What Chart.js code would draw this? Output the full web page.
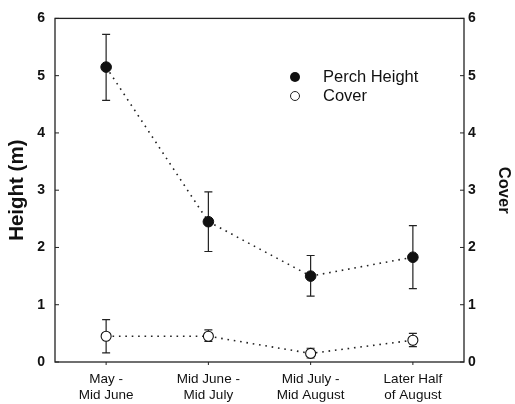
<!DOCTYPE html>
<html lang="en">
<head>
  <meta charset="utf-8">
  <title>Perch height and cover</title>
  <style>
    html, body { margin: 0; padding: 0; background: #fff; }
    #wrap { width: 515px; height: 404px; }
  </style>
</head>
<body>
  <div id="wrap"><canvas id="myChart" width="515" height="404"></canvas></div>

  <script src="https://cdn.jsdelivr.net/npm/chart.js@4"></script>
  <script>
    // data
    var periods = [['May -', 'Mid June'], ['Mid June -', 'Mid July'], ['Mid July -', 'Mid August'], ['Later Half', 'of August']];
    var perchHeight = [5.15, 2.45, 1.5, 1.83];
    var perchLow = [4.57, 1.93, 1.15, 1.28];
    var perchHigh = [5.72, 2.97, 1.86, 2.38];
    var cover = [0.45, 0.45, 0.15, 0.38];
    var coverLow = [0.16, 0.36, 0.07, 0.27];
    var coverHigh = [0.74, 0.56, 0.24, 0.5];
    var yTicks = [0, 1, 2, 3, 4, 5, 6];

    var font = "'Liberation Sans', Arial, sans-serif";

    // error bars, frame, tick marks and legend
    var extras = {
      id: 'extras',
      beforeDatasetsDraw: function(chart) {
        var ctx = chart.ctx;
        var x = chart.scales.x, y = chart.scales.y;
        var bars = [[perchLow, perchHigh], [coverLow, coverHigh]];
        ctx.save();
        ctx.strokeStyle = '#222';
        ctx.lineWidth = 1.2;
        bars.forEach(function(b) {
          for (var i = 0; i < periods.length; i++) {
            var px = x.getPixelForValue(i);
            var lo = y.getPixelForValue(b[0][i]), hi = y.getPixelForValue(b[1][i]);
            ctx.beginPath();
            ctx.moveTo(px, lo); ctx.lineTo(px, hi);
            ctx.moveTo(px - 4, lo); ctx.lineTo(px + 4, lo);
            ctx.moveTo(px - 4, hi); ctx.lineTo(px + 4, hi);
            ctx.stroke();
          }
        });
        ctx.restore();
      },
      afterDraw: function(chart) {
        var ctx = chart.ctx, a = chart.chartArea;
        var x = chart.scales.x, y = chart.scales.y;
        ctx.save();
        ctx.strokeStyle = '#222';
        ctx.lineWidth = 1.3;
        ctx.strokeRect(a.left, a.top, a.right - a.left, a.bottom - a.top);
        ctx.lineWidth = 1;
        ctx.beginPath();
        yTicks.forEach(function(t) {
          var py = y.getPixelForValue(t);
          ctx.moveTo(a.left, py); ctx.lineTo(a.left + 4, py);
          ctx.moveTo(a.right, py); ctx.lineTo(a.right - 4, py);
        });
        for (var i = 0; i < periods.length; i++) {
          var px = x.getPixelForValue(i);
          ctx.moveTo(px, a.bottom); ctx.lineTo(px, a.bottom + 3);
        }
        ctx.stroke();

        // legend
        var lx = 295, ly = 77;
        ctx.fillStyle = '#111';
        ctx.beginPath(); ctx.arc(lx, ly, 5, 0, Math.PI * 2); ctx.fill();
        ctx.fillStyle = '#fff';
        ctx.beginPath(); ctx.arc(lx, ly + 19, 4.5, 0, Math.PI * 2); ctx.fill(); ctx.stroke();
        ctx.fillStyle = '#111';
        ctx.font = '16.5px ' + font;
        ctx.textBaseline = 'middle';
        ctx.fillText('Perch Height', 323, ly);
        ctx.fillText('Cover', 323, ly + 19);
        ctx.restore();
      }
    };

    var ctx = document.getElementById('myChart').getContext('2d');
    var chart = new Chart(ctx, {
      type: 'line',
      data: {
        labels: periods,
        datasets: [{
          label: 'Perch Height',
          data: perchHeight,
          borderColor: '#222',
          borderWidth: 1.6,
          borderDash: [1.6, 4.8],
          pointRadius: 5.3,
          pointBackgroundColor: '#111',
          pointBorderColor: '#111',
          pointBorderWidth: 1,
          fill: false,
          tension: 0
        }, {
          label: 'Cover',
          data: cover,
          yAxisID: 'y2',
          borderColor: '#222',
          borderWidth: 1.6,
          borderDash: [1.6, 4.8],
          pointRadius: 5,
          pointBackgroundColor: '#fff',
          pointBorderColor: '#111',
          pointBorderWidth: 1.1,
          fill: false,
          tension: 0
        }]
      },
      options: {
        responsive: false,
        animation: false,
        layout: { padding: { top: 12, left: 0, right: 0, bottom: 0 } },
        plugins: { legend: { display: false }, tooltip: { enabled: false } },
        scales: {
          x: {
            offset: true,
            grid: { display: false, drawTicks: false },
            border: { display: false },
            ticks: { color: '#111', padding: 9, font: { family: font, size: 13.5 }, maxRotation: 0 },
            afterFit: function(s) { s.height = 42; }
          },
          y: {
            position: 'left',
            min: 0, max: 6,
            grid: { display: false, drawTicks: false },
            border: { display: false },
            ticks: { stepSize: 1, color: '#111', padding: 10, font: { family: font, size: 14, weight: 'bold' } },
            title: { display: true, text: 'Height (m)', color: '#111', padding: { top: 7, bottom: 0 }, font: { family: font, size: 20.5, weight: 'bold', lineHeight: 1 } },
            afterFit: function(s) { s.width = 55; }
          },
          y2: {
            position: 'right',
            min: 0, max: 6,
            grid: { display: false, drawTicks: false },
            border: { display: false },
            ticks: { stepSize: 1, color: '#111', padding: 4, font: { family: font, size: 14, weight: 'bold' } },
            title: { display: true, text: 'Cover', color: '#111', padding: { top: 3, bottom: 0 }, font: { family: font, size: 16.5, weight: 'bold', lineHeight: 1 } },
            afterFit: function(s) { s.width = 51; }
          }
        }
      },
      plugins: [extras]
    });
  </script>
</body>
</html>
